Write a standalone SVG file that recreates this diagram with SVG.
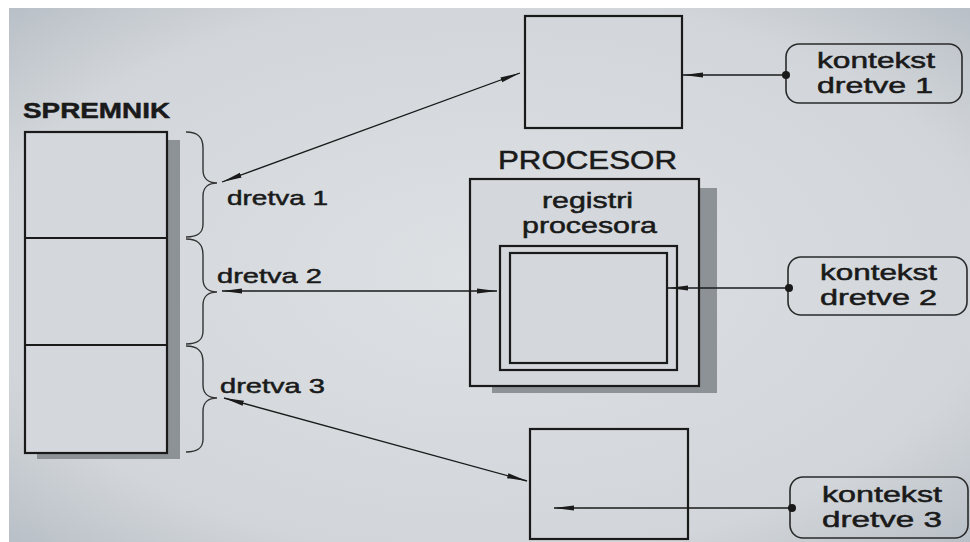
<svg xmlns="http://www.w3.org/2000/svg" width="970" height="542" viewBox="0 0 970 542">
<defs>
<radialGradient id="bg" cx="50%" cy="50%" r="75%">
<stop offset="0%" stop-color="#dde1e4"/>
<stop offset="70%" stop-color="#d2d6da"/>
<stop offset="100%" stop-color="#b3bac2"/>
</radialGradient>
<marker id="ah" viewBox="0 0 20 6" refX="20" refY="3" markerWidth="20" markerHeight="6" markerUnits="userSpaceOnUse" orient="auto-start-reverse">
<path d="M0,0.4 L20,3 L0,5.6 Z" fill="#1a1a1a"/>
</marker>
<style>
.t{font-family:"Liberation Sans",Arial,sans-serif;fill:#1a1a1a;stroke:#1a1a1a;stroke-width:0.5;}
.box{fill:none;stroke:#1a1a1a;stroke-width:2.2;}
.shadow{fill:#8d9297;}
.ctx{fill:none;stroke:#2a2a2a;stroke-width:1.6;}
.ln{fill:none;stroke:#1a1a1a;stroke-width:1.3;}
.brace{fill:none;stroke:#333;stroke-width:1.4;}
</style>
</defs>
<rect x="0" y="0" width="970" height="542" fill="#ffffff"/>
<rect x="9" y="8" width="961" height="534" fill="url(#bg)"/>

<g id="spremnik">
<rect class="shadow" x="37" y="140" width="143" height="319"/>
<rect x="25" y="132" width="142" height="321" fill="#d4d8dc" stroke="#1a1a1a" stroke-width="2.2"/>
<line x1="25" y1="238" x2="167" y2="238" stroke="#1a1a1a" stroke-width="2"/>
<line x1="25" y1="345" x2="167" y2="345" stroke="#1a1a1a" stroke-width="2"/>
<text class="t" x="23" y="118" font-size="22" font-weight="bold" textLength="147" lengthAdjust="spacingAndGlyphs">SPREMNIK</text>
</g>

<g id="braces">
<path class="brace" d="M186,132 C198,132 203,137 203,148 L203,170 C203,178 208,183 217,183 C208,183 203,188 203,196 L203,224 C203,233 198,237 186,237"/>
<path class="brace" d="M186,239 C198,239 203,244 203,255 L203,279 C203,287 208,292 217,292 C208,292 203,297 203,305 L203,331 C203,340 198,344 186,344"/>
<path class="brace" d="M186,346 C198,346 203,351 203,362 L203,385 C203,393 208,398 217,398 C208,398 203,403 203,411 L203,439 C203,448 198,452 186,452"/>
<text class="t" x="227" y="205" font-size="21" textLength="101" lengthAdjust="spacingAndGlyphs">dretva 1</text>
<text class="t" x="217" y="283" font-size="21" textLength="105" lengthAdjust="spacingAndGlyphs">dretva 2</text>
<text class="t" x="220" y="393" font-size="21" textLength="105" lengthAdjust="spacingAndGlyphs">dretva 3</text>
</g>

<g id="kontekst1-spremiste">
<rect class="box" x="525" y="16" width="157" height="112"/>
</g>

<g id="kontekst3-spremiste">
<rect class="box" x="530" y="429" width="158" height="110"/>
</g>

<g id="procesor">
<rect class="shadow" x="492" y="188" width="225" height="205"/>
<rect x="470" y="179" width="229" height="207" fill="#d4d8dc" stroke="#1a1a1a" stroke-width="2.2"/>
<text class="t" x="498" y="169" font-size="25" textLength="179" lengthAdjust="spacingAndGlyphs">PROCESOR</text>
<text class="t" x="542" y="208" font-size="22" textLength="91" lengthAdjust="spacingAndGlyphs">registri</text>
<text class="t" x="522" y="233" font-size="22" textLength="135" lengthAdjust="spacingAndGlyphs">procesora</text>
</g>

<g id="registri">
<rect class="box" x="500" y="246" width="177" height="124"/>
<rect class="box" x="510" y="253" width="157" height="110"/>
</g>

<g id="kontekst-dretve-1">
<rect class="ctx" x="786" y="44" width="176" height="59" rx="13"/>
<text class="t" x="817" y="68" font-size="22" textLength="118" lengthAdjust="spacingAndGlyphs">kontekst</text>
<text class="t" x="817" y="93" font-size="22" textLength="116" lengthAdjust="spacingAndGlyphs">dretve 1</text>
</g>

<g id="kontekst-dretve-2">
<rect class="ctx" x="788" y="257" width="179" height="58" rx="13"/>
<text class="t" x="820" y="280" font-size="22" textLength="117" lengthAdjust="spacingAndGlyphs">kontekst</text>
<text class="t" x="820" y="305" font-size="22" textLength="117" lengthAdjust="spacingAndGlyphs">dretve 2</text>
</g>

<g id="kontekst-dretve-3">
<rect class="ctx" x="790" y="477" width="178" height="61" rx="13"/>
<text class="t" x="822" y="502" font-size="22" textLength="120" lengthAdjust="spacingAndGlyphs">kontekst</text>
<text class="t" x="822" y="527" font-size="22" textLength="120" lengthAdjust="spacingAndGlyphs">dretve 3</text>
</g>

<g id="connectors">
<line class="ln" x1="222" y1="182" x2="520" y2="73" marker-start="url(#ah)" marker-end="url(#ah)"/>
<line class="ln" x1="222" y1="291" x2="497" y2="291" marker-start="url(#ah)" marker-end="url(#ah)"/>
<line class="ln" x1="224" y1="398" x2="527" y2="481" marker-start="url(#ah)" marker-end="url(#ah)"/>
<line class="ln" x1="786" y1="75" x2="683" y2="75" marker-end="url(#ah)"/>
<circle cx="786" cy="75" r="4" fill="#1a1a1a"/>
<line class="ln" x1="789" y1="288" x2="668" y2="288" marker-end="url(#ah)"/>
<circle cx="789" cy="288" r="4" fill="#1a1a1a"/>
<line class="ln" x1="792" y1="508" x2="554" y2="508" marker-end="url(#ah)"/>
<circle cx="792" cy="508" r="4" fill="#1a1a1a"/>
</g>
</svg>
